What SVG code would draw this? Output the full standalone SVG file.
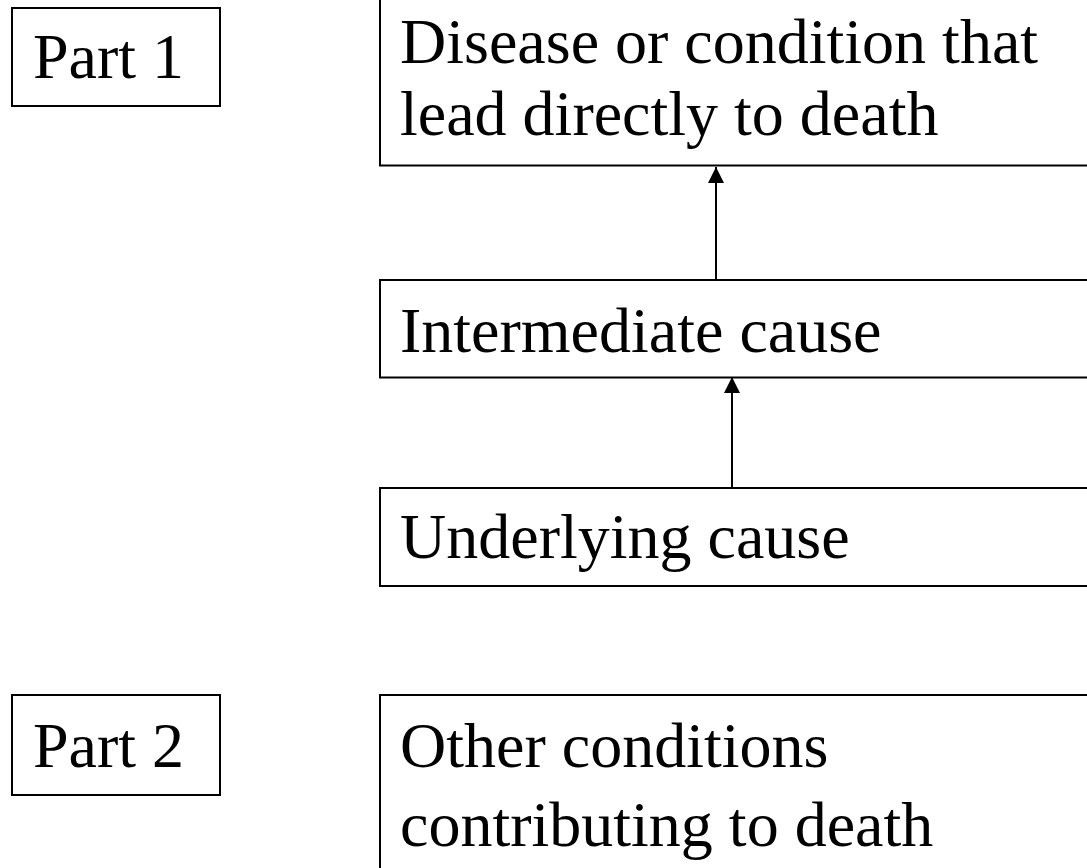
<svg xmlns="http://www.w3.org/2000/svg" width="1087" height="868" viewBox="0 0 1087 868">
<style>
.box{fill:#fff;stroke:#000;stroke-width:2}
.t{font-family:"Liberation Serif","Times New Roman",serif;font-size:64px;fill:#000}
.c{stroke:#000;stroke-width:2;fill:none}
</style>
<defs>
<marker id="ah" markerWidth="16" markerHeight="16" viewBox="0 0 16 16" refX="16" refY="8" orient="auto" markerUnits="userSpaceOnUse">
<path d="M0,0 L16,8 L0,16 Z" fill="#000"/>
</marker>
</defs>
<rect width="1087" height="868" fill="#fff"/>
<g id="part1"><rect class="box" x="12" y="8" width="208" height="98"/><text class="t" x="33" y="78">Part 1</text></g>
<g id="direct"><rect class="box" x="380" y="-10" width="720" height="175.5"/><text class="t" x="400" y="63">Disease or condition that</text><text class="t" x="400" y="135">lead directly to death</text></g>
<g id="intermediate"><rect class="box" x="380" y="280" width="720" height="97.5"/><text class="t" x="400" y="352">Intermediate cause</text></g>
<g id="underlying"><rect class="box" x="380" y="488" width="720" height="98"/><text class="t" x="400" y="558">Underlying cause</text></g>
<g id="part2"><rect class="box" x="12" y="695" width="208" height="100"/><text class="t" x="33" y="767">Part 2</text></g>
<g id="other"><rect class="box" x="380" y="695" width="720" height="200"/><text class="t" x="400" y="767">Other conditions</text><text class="t" x="400" y="846">contributing to death</text></g>
<g id="connectors">
<line class="c" x1="716" y1="280" x2="716" y2="167" marker-end="url(#ah)"/>
<line class="c" x1="732" y1="488" x2="732" y2="377" marker-end="url(#ah)"/>
</g>
</svg>
